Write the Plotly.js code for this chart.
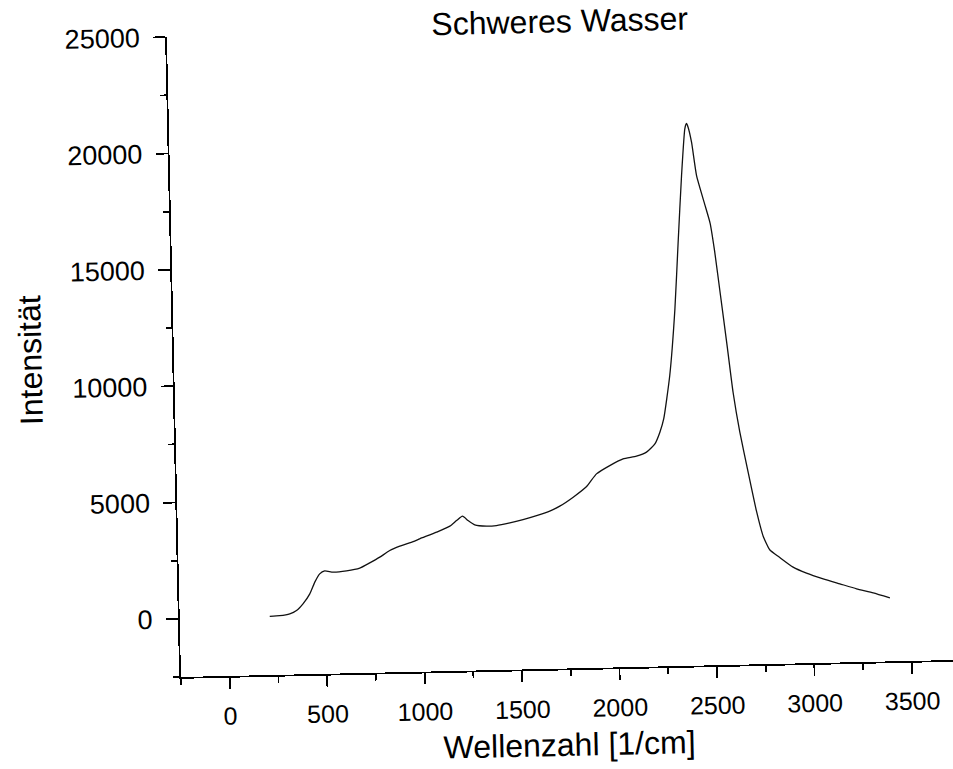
<!DOCTYPE html>
<html>
<head>
<meta charset="utf-8">
<script src="https://cdn.plot.ly/plotly-3.0.1.min.js"></script>
<style>
html, body { margin:0; padding:0; width:953px; height:769px; overflow:hidden; background:#fff; }
#plot { position:absolute; left:0; top:0; width:1000px; height:800px;
        transform-origin:181px 677px; transform:rotate(-1.26deg); }
</style>
</head>
<body>
<div id="plot"></div>
<script>
// Wellenzahl [1/cm]
const wavenumber = [212,263,315,350,384,420,447,473,499,542,
  611,679,731,783,835,887,956,990,1077,1146,
  1181,1212,1240,1274,1334,1385,1454,1522,1592,1660,
  1712,1782,1852,1904,1973,2042,2111,2163,2207,2234,
  2255,2291,2325,2349,2374,2396,2405,2413,2429,2451,
  2490,2515,2535,2560,2590,2614,2644,2682,2720,2752,
  2785,2830,2902,2970,3055,3140,3225,3310,3395];
// Intensität
const intensity = [20,40,110,246,527,950,1448,1800,1924,1860,
  1903,2007,2225,2460,2735,2914,3099,3210,3481,3726,
  3960,4143,3949,3758,3691,3708,3811,3940,4099,4276,
  4481,4855,5300,5834,6178,6453,6556,6720,7067,7565,
  8130,9990,12850,15710,18570,20570,20800,20640,19990,18550,
  17300,16500,15300,13400,11100,9200,7490,5764,4100,3000,
  2400,2100,1640,1370,1110,880,650,460,230];
const xTicks = [0,500,1000,1500,2000,2500,3000,3500];
const yTicks = [0,5000,10000,15000,20000,25000];
const titleText = "Schweres Wasser";
const xTitle = "Wellenzahl [1/cm]";
const yTitle = "Intensität";

const font = "Liberation Sans, Arial, sans-serif";
const trace = {
  x: wavenumber, y: intensity, type: "scatter", mode: "lines",
  line: {color: "#111", width: 1.3, shape: "spline", smoothing: 0.5},
  hoverinfo: "skip"
};
const layout = {
  width: 1000, height: 800,
  margin: {l: 181, r: 45, t: 37, b: 123, pad: 0},
  paper_bgcolor: "#fff", plot_bgcolor: "#fff",
  showlegend: false,
  font: {family: font, color: "#000"},
  title: {text: titleText, font: {family: font, size: 32, color: "#000"},
          x: 0.574, xanchor: "center", xref: "container",
          y: 0.977, yanchor: "top", yref: "container"},
  xaxis: {
    range: [-250, 3721], showgrid: false, zeroline: false,
    showline: true, linecolor: "#000", linewidth: 1.8,
    tickmode: "array", tickvals: xTicks, ticktext: xTicks.map(String),
    ticks: "outside", ticklen: 11, tickwidth: 1.8, tickcolor: "#000",
    ticklabelstandoff: 6,
    minor: {dtick: 250, tick0: 0, ticks: "outside", ticklen: 6, tickwidth: 1.8, tickcolor: "#000"},
    tickfont: {family: font, size: 25, color: "#000"},
    title: {text: xTitle, font: {family: font, size: 32, color: "#000"}, standoff: 12},
    automargin: false
  },
  yaxis: {
    range: [-2500, 25000], showgrid: false, zeroline: false,
    showline: true, linecolor: "#000", linewidth: 1.8,
    tickmode: "array", tickvals: yTicks, ticktext: yTicks.map(String),
    ticks: "outside", ticklen: 12, tickwidth: 1.8, tickcolor: "#000",
    ticklabelstandoff: 8,
    minor: {dtick: 2500, tick0: 0, ticks: "outside", ticklen: 6, tickwidth: 1.8, tickcolor: "#000"},
    tickfont: {family: font, size: 27, color: "#000"},
    title: {text: yTitle, font: {family: font, size: 32, color: "#000"}, standoff: 20},
    automargin: false
  }
};
Plotly.newPlot("plot", [trace], layout, {staticPlot: true, displayModeBar: false});
</script>
</body>
</html>
